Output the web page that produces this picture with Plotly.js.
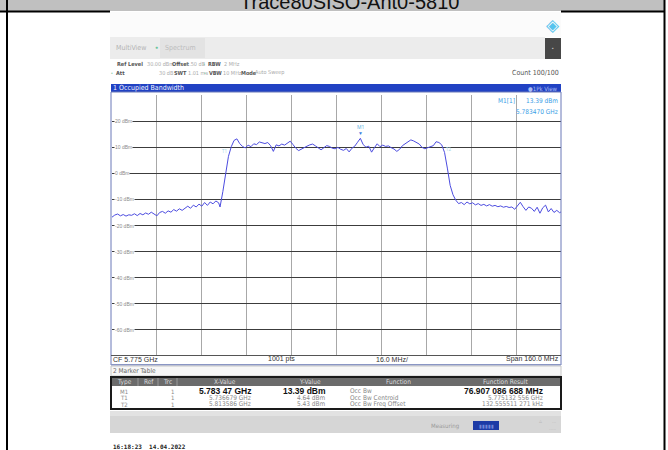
<!DOCTYPE html>
<html><head><meta charset="utf-8">
<script src="https://cdn.plot.ly/plotly-3.0.1.min.js"></script>
<style>html,body{margin:0;padding:0;background:#fff;}#chart{width:668px;height:450px;}</style>
</head><body><div id="chart"></div>
<script>
// ---------- DATA ----------
const pageTitle = 'Trace80SISO-Ant0-5810';
const freqGHz = [
5.695,5.696,5.697,5.698,5.699,5.700,5.701,5.702,5.703,5.704,5.705,5.706,5.707,5.708,5.709,5.710,
5.711,5.712,5.713,5.714,5.715,5.716,5.717,5.718,5.719,5.720,5.721,5.722,5.723,5.724,5.725,5.726,
5.727,5.728,5.729,5.730,5.731,5.732,5.733,5.7335,5.7345,5.7355,5.7365,5.7375,5.7385,5.7395,5.7405,
5.7415,5.7425,5.7435,5.7445,5.7455,5.7465,5.7475,5.7485,5.7495,5.7505,5.7515,5.7525,5.7535,5.7545,
5.7555,5.7565,5.7575,5.7585,5.7595,5.7605,5.7615,5.7625,5.7635,5.7645,5.7655,5.7665,5.7675,5.7685,
5.7695,5.7705,5.7715,5.7725,5.7735,5.7745,5.7755,5.7765,5.7775,5.7785,5.7795,5.7805,5.7815,5.7825,
5.7835,5.7845,5.7855,5.7865,5.7875,5.7885,5.7895,5.7905,5.7915,5.7925,5.7935,5.7945,5.7955,5.7965,
5.7975,5.7985,5.7995,5.8005,5.8015,5.8025,5.8035,5.8045,5.8055,5.8065,5.8075,5.8085,5.8095,5.8105,
5.8115,5.8125,5.8135,5.8145,5.8155,5.8165,5.8175,5.8185,5.8195,5.8205,5.8215,5.8225,5.8235,5.8245,
5.8255,5.8265,5.8275,5.8285,5.8295,5.8305,5.8315,5.8325,5.8335,5.8345,5.8355,5.8365,5.8375,5.8385,
5.8395,5.8405,5.8415,5.8425,5.8435,5.8445,5.8455,5.8465,5.8475,5.8485,5.8495,5.8505,5.8515,5.8525,
5.8535,5.8545,5.855];
const levelDbm = [
-16.8,-16.0,-15.6,-16.3,-15.8,-16.4,-15.9,-16.1,-15.5,-16.2,-15.4,-15.9,-15.2,-15.7,-14.9,-15.6,
-16.3,-15.0,-14.6,-15.3,-14.4,-14.9,-13.9,-14.5,-13.6,-14.2,-13.3,-12.6,-13.4,-12.2,-12.9,-11.8,
-12.6,-11.2,-12.3,-11.0,-11.7,-10.6,-11.3,-12.9,-7.0,0.5,6.5,10.2,12.6,13.2,11.4,
10.3,9.7,10.8,10.2,11.3,11.0,12.0,11.6,11.4,11.8,10.6,8.4,10.9,10.5,
11.2,10.8,11.6,12.3,11.0,9.6,8.7,9.3,10.1,10.4,10.9,11.2,10.5,9.8,
9.0,9.8,10.6,10.3,9.6,9.4,9.9,9.2,8.8,9.5,8.2,9.6,10.4,11.9,
13.4,11.0,10.0,10.4,8.1,9.8,11.3,10.2,10.8,10.3,10.5,9.8,9.3,8.4,
9.2,10.6,11.3,12.0,12.8,12.4,11.9,11.2,9.9,9.4,9.8,10.1,10.6,12.1,
11.8,10.9,8.0,2.0,-4.6,-8.2,-10.3,-11.6,-11.2,-12.0,-11.0,-11.7,-11.3,-12.1,
-11.6,-12.3,-11.9,-12.5,-12.0,-12.6,-12.3,-12.8,-12.5,-13.0,-12.7,-13.1,-12.9,-13.8,
-12.6,-11.1,-12.8,-14.2,-12.9,-13.4,-14.6,-13.0,-15.3,-13.2,-12.2,-14.8,-13.5,-15.0,
-14.2,-15.1,-14.8];
const yTickValues = [20,10,0,-10,-20,-30,-40,-50,-60];
const yTickLabels = ['20 dBm','10 dBm','0 dBm','-10 dBm','-20 dBm','-30 dBm','-40 dBm','-50 dBm','-60 dBm'];
const markerType = ['M1','T1','T2'];
const markerTrc = ['1','1','1'];
const markerFreqGHz = [5.78347, 5.736679, 5.813586];
const markerLevelDbm = [13.39, 4.64, 5.43];
const markerXText = ['5.783 47 GHz','5.736679 GHz','5.813586 GHz'];
const markerYText = ['13.39 dBm','4.64 dBm','5.43 dBm'];
const markerFunc = ['Occ Bw','Occ Bw Centroid','Occ Bw Freq Offset'];
const markerResult = ['76.907 086 688 MHz','5.775132 556 GHz','132.555511 271 kHz'];
const tableHeaders = ['Type','Ref','Trc','X-Value','Y-Value','Function','Function Result'];
const footerLabels = ['CF 5.775 GHz','1001 pts','16.0 MHz/','Span 160.0 MHz'];
const timestamp = '16:18:23  14.04.2022';

// ---------- LAYOUT HELPERS ----------
const L=112,R=561,T=95,B=356;
const NARROW='Liberation Sans Narrow, DejaVu Sans Condensed, Liberation Sans, Arial';
const X = px => (px-L)/(R-L);
const Y = py => (B-py)/(B-T);
const shapes=[], ann=[];
function rect(x0,y0,x1,y1,fill,lc,lw,layer){shapes.push({type:'rect',xref:'paper',yref:'paper',x0:X(x0),x1:X(x1),y0:Y(y0),y1:Y(y1),fillcolor:fill||'rgba(0,0,0,0)',line:{color:lc||'rgba(0,0,0,0)',width:lw||0},layer:layer||'above'});}
function line(x0,y0,x1,y1,c,w){shapes.push({type:'line',xref:'paper',yref:'paper',x0:X(x0),x1:X(x1),y0:Y(y0),y1:Y(y1),line:{color:c,width:w}});}
function txt(px,py,t,o){o=o||{};ann.push({xref:'paper',yref:'paper',x:X(px),y:Y(py),text:t,showarrow:false,xanchor:o.a||'left',yanchor:'middle',borderpad:0,
 bgcolor:o.bg||'rgba(0,0,0,0)',font:{family:o.f||'Liberation Sans, Arial, sans-serif',size:o.s||7,color:o.c||'#444',weight:o.w||'normal'}});}

// outer document frame
rect(0,0,665,11,'#c0c0c0');
txt(349,2,pageTitle,{a:'center',s:20,c:'#111',f:'Liberation Sans, Arial, sans-serif'});
line(0,11.5,110,11.5,'#000',2); line(561,11.5,665,11.5,'#000',2);
line(7,0,7,450,'#000',2); line(664.5,0,664.5,450,'#000',2);

// instrument screenshot top area
rect(110,12,561,37,'#fbfbfb');
txt(553,25,'◈',{a:'center',s:17,c:'#55c4ee',f:'DejaVu Sans'});
rect(110,37,545,59,'#ececec');
rect(160,38,205,58,'#e3e3e3');
rect(545,38,561,59,'#474747');
txt(553,48,'▪',{a:'center',s:5,c:'#bbb'});
txt(115,48,'MultiView',{s:7,c:'#b3b3b3',f:NARROW});
txt(156,47,'●',{a:'center',s:5,c:'#6cc49a'});
txt(164,48,'Spectrum',{s:7,c:'#bdbdbd',f:NARROW});

// setting rows
const lab={s:5.5,c:'#555',f:NARROW,w:'bold'}, val={s:5.5,c:'#aaa',f:NARROW};
txt(116,64,'Ref Level',lab);
txt(146,64,'30.00 dBm',val);
txt(171,64,'Offset',lab);
txt(185,64,'1.50 dB',val);
txt(203.5,64,'●',{a:'center',s:3,c:'#7cc59c'});
txt(207,64,'RBW',lab);
txt(223,64,'2 MHz',val);
txt(112,73,'●',{a:'center',s:3,c:'#7cc59c'});
txt(115,73,'Att',lab);
txt(158,73,'30 dB',val);
txt(173,73,'SWT',lab);
txt(187,73,'1.01 ms',val);
txt(205,73,'●',{a:'center',s:3,c:'#7cc59c'});
txt(208,73,'VBW',lab);
txt(222,73,'10 MHz',val);
txt(240,73,'Mode',lab);
txt(254,73,'Auto Sweep',val);
txt(560,73,'Count 100/100',{a:'right',s:7,c:'#555',f:NARROW});

// blue title bar
rect(111,84,561,92,'#2142c3');
txt(112,88,'1 Occupied Bandwidth',{s:7,c:'#f2f4ff',f:NARROW});
txt(559,88,'●1Pk View',{a:'right',s:6,c:'#a8bcf4',f:NARROW});

// plot frame
rect(111,92,561,365,null,'#6a78b8',1);
line(111,355.5,561,355.5,'#555',1);
line(111,364.5,561,364.5,'#8a96c4',1);

// y labels inside plot
yTickValues.forEach((v,i)=>ann.push({xref:'paper',yref:'y',x:X(114),y:v,text:yTickLabels[i],showarrow:false,xanchor:'left',yanchor:'middle',
 bgcolor:'#fff',borderpad:0,font:{family:'Liberation Sans, Arial',size:5,color:'#8a8a8a'}}));

// marker readout
txt(497,101,'M1[1]',{s:6.5,c:'#3b9ee6',f:NARROW});
txt(559,101,markerYText[0],{a:'right',s:6.5,c:'#3b9ee6',f:NARROW});
txt(559,112,'5.783470 GHz',{a:'right',s:6.5,c:'#3b9ee6',f:NARROW});

// markers on trace
ann.push({x:markerFreqGHz[0],y:markerLevelDbm[0],xref:'x',yref:'y',text:'▼',showarrow:false,yshift:5,font:{size:5,color:'#3b7fe0'}});
ann.push({x:markerFreqGHz[0],y:markerLevelDbm[0],xref:'x',yref:'y',text:'M1',showarrow:false,yshift:11,font:{size:5,color:'#5ab0e0'}});
ann.push({x:markerFreqGHz[1],y:markerLevelDbm[1],xref:'x',yref:'y',text:'T1',showarrow:false,xshift:-4,yshift:10,font:{size:4.5,color:'#9fd4e6'}});
ann.push({x:markerFreqGHz[2],y:markerLevelDbm[2],xref:'x',yref:'y',text:'T2',showarrow:false,xshift:4,yshift:10,font:{size:4.5,color:'#9fd4e6'}});

// footer labels
txt(112,359,footerLabels[0],{s:7,c:'#333'});
txt(267,359,footerLabels[1],{s:7,c:'#333'});
txt(375,359,footerLabels[2],{s:7,c:'#333'});
txt(560,359,footerLabels[3],{a:'right',s:7,c:'#333'});

// marker table
rect(111,366,561,376,'#f7f7f7','#c8c8c8',1);
txt(112,371,'2 Marker Table',{s:6.5,c:'#666',f:NARROW});
rect(111,377,561,409,'#ffffff','#1a1a1a',2);
rect(112,378,560,386,'#6b6b6b');
const hdrX=[124,149,167,225,310,398,505];
tableHeaders.forEach((h,i)=>txt(hdrX[i],382,h,{a:'center',s:6.5,c:'#dcdcdc',f:NARROW}));
[138,158,177].forEach(x=>line(x,378,x,386,'#9a9a9a',1));
const rowY=[391,397.5,404];
const boldF='Liberation Sans, Arial, sans-serif';
markerType.forEach((m,i)=>{
  const b=i===0;
  txt(124,rowY[i],m,{a:'center',s:6,c:'#888',f:NARROW});
  txt(172,rowY[i],markerTrc[i],{a:'center',s:6,c:'#888',f:NARROW});
  txt(252,rowY[i],markerXText[i],{a:'right',s:b?8.5:6.5,c:b?'#111':'#888',w:b?'bold':'normal',f:b?boldF:NARROW});
  txt(327,rowY[i],markerYText[i],{a:'right',s:b?8.5:6.5,c:b?'#111':'#888',w:b?'bold':'normal',f:b?boldF:NARROW});
  txt(349,rowY[i],markerFunc[i],{s:6.5,c:'#888',f:NARROW});
  txt(544,rowY[i],markerResult[i],{a:'right',s:b?8.5:6.5,c:b?'#111':'#888',w:b?'bold':'normal',f:b?boldF:NARROW});
});

// status bar
rect(110,411,561,433,'#d6d6d6');
rect(110,411,561,416,'#e2e2e2');
txt(445,426,'Measuring',{a:'center',s:6,c:'#9a9a9a',f:NARROW});
rect(473,421,499,430,'#1d3ba6');
txt(486,425.5,'▮▮▮▮▮',{a:'center',s:5,c:'#6f86d8'});
txt(540,421,'▵',{a:'center',s:6,c:'#bbb'});
txt(557,421,'...',{a:'right',s:5,c:'#bbb'});
txt(557,428,'.....',{a:'right',s:5,c:'#bbb'});
txt(112,446,timestamp,{s:6,c:'#222',w:'bold',f:'DejaVu Sans Mono, monospace'});

const trace={x:freqGHz,y:levelDbm,type:'scatter',mode:'lines',line:{color:'#4c4ce0',width:1},hoverinfo:'skip'};

const layout={width:668,height:450,margin:{l:L,r:668-R,t:T,b:450-B},
 paper_bgcolor:'#ffffff',plot_bgcolor:'#ffffff',showlegend:false,
 xaxis:{range:[5.695,5.855],tick0:5.695,dtick:0.016,showticklabels:false,ticks:'',showgrid:true,gridcolor:'#a8a8a8',gridwidth:1,zeroline:false,showline:false},
 yaxis:{range:[-70,30],tick0:-70,dtick:10,showticklabels:false,ticks:'',showgrid:true,gridcolor:'#3c3c3c',gridwidth:1,zeroline:false,showline:false},
 shapes:shapes,annotations:ann};
Plotly.newPlot('chart',[trace],layout,{staticPlot:true,displayModeBar:false});
</script></body></html>
